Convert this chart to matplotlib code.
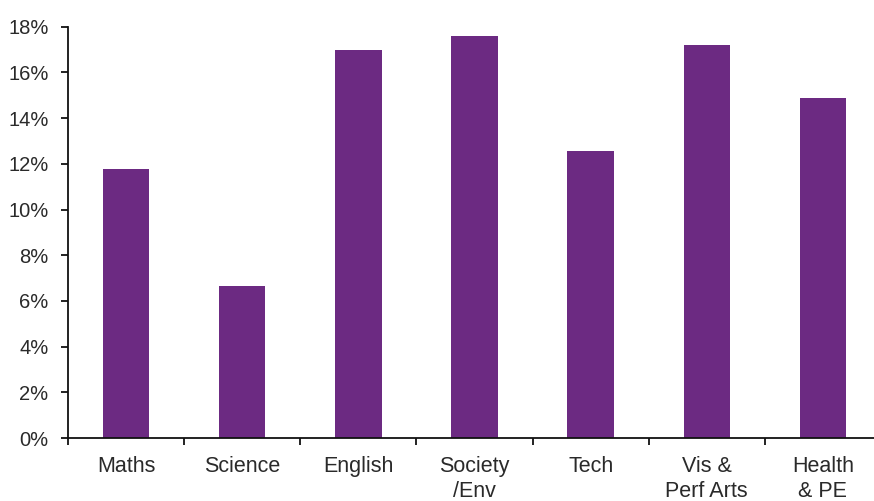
import numpy as np
import matplotlib
matplotlib.use("Agg")
import matplotlib.pyplot as plt
from matplotlib.ticker import FuncFormatter, FixedLocator

subjects = ["Maths", "Science", "English", "Society\n/Env", "Tech", "Vis &\nPerf Arts", "Health\n& PE"]
shares = [11.77, 6.65, 16.98, 17.59, 12.56, 17.2, 14.88]
yticks = [0, 2, 4, 6, 8, 10, 12, 14, 16, 18]

plt.rcParams['font.family'] = ['Liberation Sans', 'DejaVu Sans']

fig = plt.figure(figsize=(8.74, 5.01), dpi=100)
ax = fig.add_axes([68 / 874, 63 / 501, 813 / 874, 411.3 / 501])

x = np.arange(len(subjects))
ax.bar(x, shares, width=0.4, color="#6c2a82")

ax.set_xlim(-0.5, len(subjects) - 0.5)
ax.set_ylim(0, 18)
ax.set_yticks(yticks)
ax.yaxis.set_major_formatter(FuncFormatter(lambda v, p: "%d%%" % v))

ax.set_xticks(x)
ax.set_xticklabels(subjects, linespacing=1.25)
ax.xaxis.set_minor_locator(FixedLocator(np.arange(-0.5, len(subjects), 1.0)))
ax.tick_params(axis="x", which="major", length=0, pad=13, labelsize=15.5, labelcolor="#2a2a2a")
ax.tick_params(axis="x", which="minor", length=5, width=1.3, direction="out", color="#111111")
ax.tick_params(axis="y", length=5, width=1.3, pad=9, labelsize=14.5, labelcolor="#2a2a2a", color="#111111")

for s in ["top", "right"]:
    ax.spines[s].set_visible(False)
for s in ["left", "bottom"]:
    ax.spines[s].set_linewidth(1.3)
    ax.spines[s].set_color("#111111")

plt.savefig("out.png", dpi=100)
plt.close()
